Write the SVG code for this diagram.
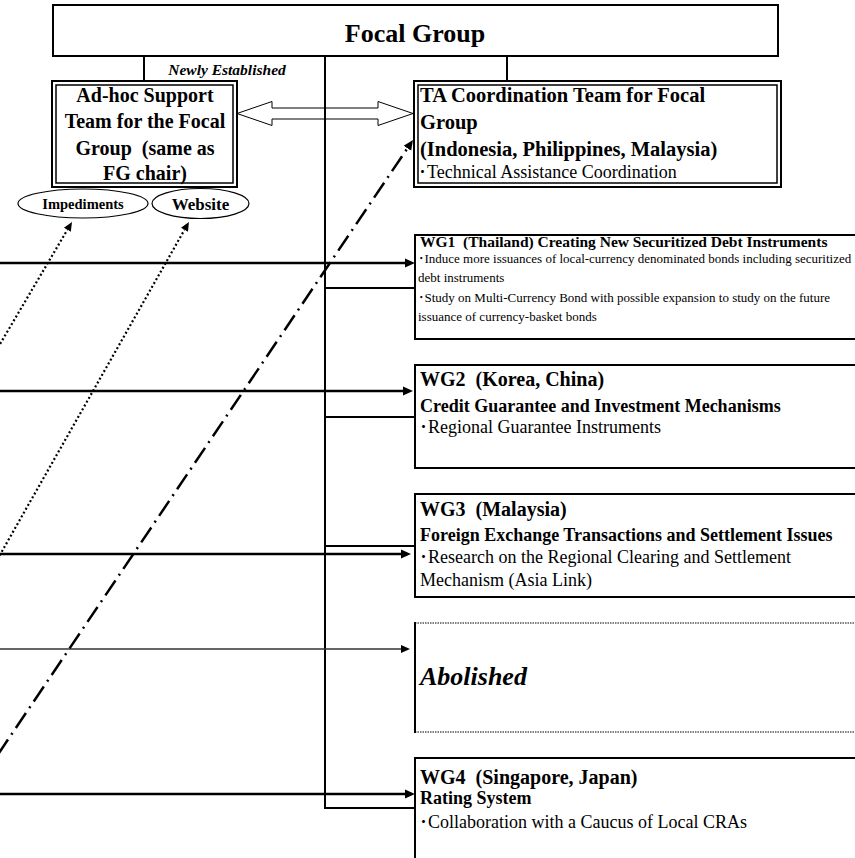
<svg xmlns="http://www.w3.org/2000/svg" width="855" height="858" viewBox="0 0 855 858">
<style>
text{font-family:"Liberation Serif","Times New Roman","Noto Sans CJK JP",serif;fill:#000}
.b{font-weight:bold}
.bi{font-weight:bold;font-style:italic}
.box{fill:#fff;stroke:#000;stroke-width:2}
.inner{fill:none;stroke:#000;stroke-width:1.5}
.ln{fill:none;stroke:#000;stroke-width:2}
.arr{fill:none;stroke:#000;stroke-width:2.5}
.dot{fill:none;stroke:#000;stroke-width:2.2;stroke-dasharray:2 2.4}
.dd{fill:none;stroke:#000;stroke-width:2.5;stroke-dasharray:18 6 2 6}
.ell{fill:#fff;stroke:#000;stroke-width:1.2}
</style>
<defs>
<marker id="ah" markerUnits="userSpaceOnUse" viewBox="0 -5 10 10" refX="0" refY="0" markerWidth="10" markerHeight="10" orient="auto"><path d="M0,-4.5 L10,0 L0,4.5 z" fill="#000" stroke="none"/></marker>
<marker id="ahs" markerUnits="userSpaceOnUse" viewBox="0 -5 10 10" refX="0" refY="0" markerWidth="10" markerHeight="10" orient="auto"><path d="M0,-4 L9,0 L0,4 z" fill="#000" stroke="none"/></marker>
</defs>
<rect width="855" height="858" fill="#fff"/>

<g id="focal-group">
<rect class="box" x="53" y="5" width="725" height="51"/>
<text class="b" x="415" y="42" font-size="26" text-anchor="middle">Focal Group</text>
</g>

<g id="ta-arrow">
<polygon points="237,113.5 272,101.5 272,108 378,108 378,101.5 413,113.5 378,125.5 378,119 272,119 272,125.5" fill="#fff" stroke="#000" stroke-width="1"/>
</g>

<g id="connectors">
<line class="ln" x1="144" y1="56" x2="144" y2="81"/>
<line class="ln" x1="507" y1="56" x2="507" y2="81"/>
<polyline class="ln" points="325,56 325,808 415,808"/>
<line class="ln" x1="325" y1="288" x2="415" y2="288"/>
<line class="ln" x1="325" y1="417" x2="415" y2="417"/>
<line class="ln" x1="325" y1="546" x2="415" y2="546"/>
<line class="arr" x1="-5" y1="263" x2="405" y2="263" marker-end="url(#ah)"/>
<line class="arr" x1="-5" y1="391" x2="403" y2="391" marker-end="url(#ah)"/>
<line class="arr" x1="-5" y1="554" x2="401" y2="554" marker-end="url(#ah)"/>
<line x1="-5" y1="649" x2="401" y2="649" stroke="#333" stroke-width="1.5" marker-end="url(#ahs)"/>
<line class="arr" x1="-5" y1="794" x2="405" y2="794" marker-end="url(#ah)"/>
<line class="dot" x1="-20" y1="378" x2="67.4" y2="229.7" marker-end="url(#ahs)"/>
<line class="dot" x1="-20" y1="590" x2="184.5" y2="229.8" marker-end="url(#ahs)"/>
<line class="dd" x1="-20" y1="781" x2="407.4" y2="148.3" marker-end="url(#ah)"/>
<text class="bi" x="227" y="75" font-size="15.5" text-anchor="middle">Newly Established</text>
</g>

<g id="adhoc-team">
<rect class="box" x="52" y="81" width="185" height="106"/>
<rect class="inner" x="56" y="85" width="177" height="98"/>
<text class="b" font-size="20" text-anchor="middle" xml:space="preserve"><tspan x="145" y="102">Ad-hoc Support</tspan><tspan x="145" y="128">Team for the Focal</tspan><tspan x="145" y="155">Group  (same as</tspan><tspan x="145" y="180">FG chair)</tspan></text>
</g>

<g id="ta-team">
<rect class="box" x="414" y="81" width="367" height="106"/>
<rect class="inner" x="418" y="85" width="359" height="98"/>
<text class="b" font-size="20.5"><tspan x="420" y="102">TA Coordination Team for Focal</tspan><tspan x="420" y="129">Group</tspan><tspan x="420" y="156">(Indonesia, Philippines, Malaysia)</tspan></text>
<text x="418" y="178" font-size="18">･Technical Assistance Coordination</text>
</g>

<g id="impediments">
<ellipse class="ell" cx="83" cy="203.5" rx="65" ry="14.5"/>
<text class="b" x="83" y="209" font-size="14.5" text-anchor="middle">Impediments</text>
</g>

<g id="website">
<ellipse class="ell" cx="200.5" cy="203.5" rx="48.5" ry="15"/>
<text class="b" x="200.5" y="209.5" font-size="17" text-anchor="middle">Website</text>
</g>

<g id="wg1">
<rect class="box" x="415" y="235" width="500" height="104"/>
<text class="b" x="420" y="247" font-size="15.5" xml:space="preserve">WG1  (Thailand) Creating New Securitized Debt Instruments</text>
<text font-size="13"><tspan x="418" y="263">･Induce more issuances of local-currency denominated bonds including securitized</tspan><tspan x="418" y="282">debt instruments</tspan><tspan x="418" y="302">･Study on Multi-Currency Bond with possible expansion to study on the future</tspan><tspan x="418" y="321">issuance of currency-basket bonds</tspan></text>
</g>

<g id="wg2">
<rect class="box" x="415" y="365" width="500" height="103"/>
<text class="b" x="420" y="386" font-size="20" xml:space="preserve">WG2  (Korea, China)</text>
<text class="b" x="420" y="411.5" font-size="18">Credit Guarantee and Investment Mechanisms</text>
<text x="419" y="433" font-size="18">･Regional Guarantee Instruments</text>
</g>

<g id="wg3">
<rect class="box" x="415" y="494" width="500" height="103"/>
<text class="b" x="420" y="516" font-size="20" xml:space="preserve">WG3  (Malaysia)</text>
<text class="b" x="420" y="540.5" font-size="18">Foreign Exchange Transactions and Settlement Issues</text>
<text font-size="18"><tspan x="419" y="563">･Research on the Regional Clearing and Settlement</tspan><tspan x="420" y="586">Mechanism (Asia Link)</tspan></text>
</g>

<g id="abolished">
<rect x="415" y="623" width="500" height="109" fill="#fff"/>
<line x1="415" y1="623" x2="860" y2="623" stroke="#555" stroke-width="1.5" stroke-dasharray="1.5 1"/>
<line x1="415" y1="732" x2="860" y2="732" stroke="#555" stroke-width="1.5" stroke-dasharray="1.5 1"/>
<line x1="415" y1="622" x2="415" y2="733" stroke="#000" stroke-width="2"/>
<text class="bi" x="420" y="685" font-size="26">Abolished</text>
</g>

<g id="wg4">
<rect class="box" x="415" y="758" width="500" height="200"/>
<text class="b" x="420" y="784" font-size="20" xml:space="preserve">WG4  (Singapore, Japan)</text>
<text class="b" x="420" y="804" font-size="18">Rating System</text>
<text x="419" y="828" font-size="18">･Collaboration with a Caucus of Local CRAs</text>
</g>
</svg>
